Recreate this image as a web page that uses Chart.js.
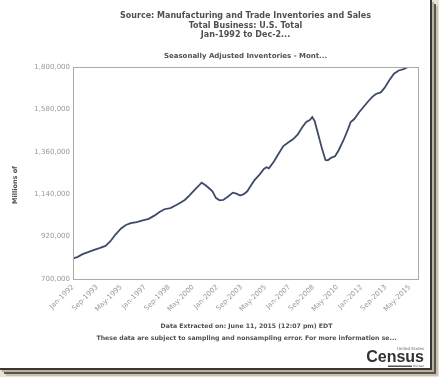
<!DOCTYPE html>
<html>
<head>
<meta charset="utf-8">
<script src="https://cdn.jsdelivr.net/npm/chart.js@4/dist/chart.umd.min.js"></script>
<style>
  body { margin: 0; background: #e9e3d5; width: 439px; height: 377px; overflow: hidden; }
  .frame {
    position: absolute; left: 0; top: 0; width: 430px; height: 368px; background: #fff;
    border-right: 2px solid #3c3831; border-bottom: 2px solid #3c3831;
    box-shadow: 2px 2px 0 #b9b2a2, 4px 4px 0 #5b564c, 6px 6px 0 #c8c1b1;
  }
</style>
</head>
<body>
<div class="frame"><canvas id="invChart" width="430" height="368"></canvas></div>
<script>
// month offsets from Jan-1992 and inventories (millions of dollars)
const months = [0, 4, 8, 12, 17, 22, 27, 31, 35, 40, 44, 48, 53, 58, 63, 68, 72, 76, 81, 86,
  90, 93, 96, 100, 104, 107, 110, 113, 116, 119, 122, 125, 129, 133, 136, 139, 142, 145, 148, 151,
  155, 159, 161, 163, 167, 171, 175, 179, 183, 187, 191, 194, 197, 199, 201, 204, 207, 210, 212, 215,
  218, 221, 225, 229, 231, 234, 238, 242, 246, 249, 252, 256, 259, 263, 267, 271, 275, 279]
const inventories = [807000, 815000, 829000, 838000, 850000, 860000, 872000, 895000, 928000, 962000,
  980000, 990000, 995000, 1004000, 1012000, 1030000, 1048000, 1062000, 1068000, 1084000,
  1098000, 1110000, 1128000, 1155000, 1180000, 1200000, 1188000, 1172000, 1155000, 1120000,
  1108000, 1110000, 1128000, 1148000, 1143000, 1133000, 1140000, 1155000, 1185000, 1213000,
  1240000, 1272000, 1280000, 1274000, 1308000, 1350000, 1390000, 1408000, 1425000, 1450000,
  1490000, 1515000, 1525000, 1540000, 1520000, 1450000, 1380000, 1318000, 1316000, 1330000,
  1337000, 1368000, 1420000, 1480000, 1515000, 1530000, 1565000, 1595000, 1625000, 1645000,
  1660000, 1668000, 1690000, 1730000, 1765000, 1782000, 1789000, 1801000]
const xTickLabels = ["Jan-1992", "Sep-1993", "May-1995", "Jan-1997", "Sep-1998", "May-2000", "Jan-2002",
  "Sep-2003", "May-2005", "Jan-2007", "Sep-2008", "May-2010", "Jan-2012", "Sep-2013", "May-2015"]
const titleLines = ["Source: Manufacturing and Trade Inventories and Sales", "Total Business: U.S. Total", "Jan-1992 to Dec-2..."]
const subTitle = "Seasonally Adjusted Inventories - Mont..."
const yTitle = "Millions of"
const footLines = ["Data Extracted on: June 11, 2015 (12:07 pm) EDT",
  "These data are subject to sampling and nonsampling error. For more information se..."]

const FONT = "'DejaVu Sans', Verdana, sans-serif"

const textPlugin = {
  id: 'textPlugin',
  afterDraw(chart) {
    const ctx = chart.ctx
    const a = chart.chartArea
    const cx = (a.left + a.right) / 2
    ctx.save()
    // plot box
    ctx.strokeStyle = '#a9a9a9'
    ctx.lineWidth = 1
    ctx.strokeRect(a.left + 0.5, a.top + 0.5, a.right - a.left, a.bottom - a.top)

    ctx.textAlign = 'center'
    ctx.textBaseline = 'middle'
    ctx.fillStyle = '#505050'
    ctx.font = 'bold 8px ' + FONT
    titleLines.forEach((t, i) => ctx.fillText(t, cx, 16 + i * 9.6))
    ctx.font = 'bold 7px ' + FONT
    ctx.fillText(subTitle, cx, 56)
    ctx.font = 'bold 6.2px ' + FONT
    footLines.forEach((t, i) => ctx.fillText(t, cx + 1, 326 + i * 12))

    ctx.save()
    ctx.font = 'bold 6.5px ' + FONT
    ctx.translate(15, 185)
    ctx.rotate(-Math.PI / 2)
    ctx.fillText(yTitle, 0, 0)
    ctx.restore()

    // census logo
    ctx.textAlign = 'right'
    ctx.fillStyle = '#666'
    ctx.font = '4px ' + FONT
    ctx.fillText('United States', 424, 349)
    ctx.fillStyle = '#333'
    ctx.font = 'bold 16px "Liberation Sans Narrow", "Liberation Sans", sans-serif'
    ctx.fillText('Census', 424, 358)
    ctx.fillStyle = '#555'
    ctx.fillRect(388, 365.5, 24, 1.5)
    ctx.font = '3px ' + FONT
    ctx.fillText('Bureau', 424, 366.5)
    ctx.restore()
  }
}

new Chart(document.getElementById('invChart').getContext('2d'), {
  type: 'line',
  data: {
    datasets: [{
      data: months.map((m, i) => ({x: m, y: inventories[i]})),
      borderColor: '#3d4b68',
      borderWidth: 1.8,
      pointRadius: 0,
      tension: 0,
      fill: false
    }]
  },
  options: {
    responsive: false,
    animation: false,
    layout: {padding: {top: 67, right: 12, left: 0, bottom: 0}},
    plugins: {legend: {display: false}, tooltip: {enabled: false}, title: {display: false}},
    scales: {
      x: {
        type: 'linear',
        min: 0,
        max: 287,
        grid: {display: false, drawTicks: false},
        border: {display: false},
        afterFit: (s) => { s.height = 89 },
        ticks: {
          stepSize: 20,
          includeBounds: false,
          autoSkip: false,
          minRotation: 45,
          maxRotation: 45,
          padding: 4,
          color: '#999',
          font: {family: FONT, size: 7},
          callback: (v) => v % 20 === 0 ? xTickLabels[v / 20] : null
        }
      },
      y: {
        min: 700000,
        max: 1800000,
        grid: {display: false, drawTicks: false},
        border: {display: false},
        afterFit: (s) => { s.width = 73 },
        ticks: {
          stepSize: 220000,
          padding: 3,
          color: '#999',
          font: {family: FONT, size: 7},
          callback: (v) => v.toLocaleString('en-US')
        }
      }
    }
  },
  plugins: [textPlugin]
})
</script>
</body>
</html>
